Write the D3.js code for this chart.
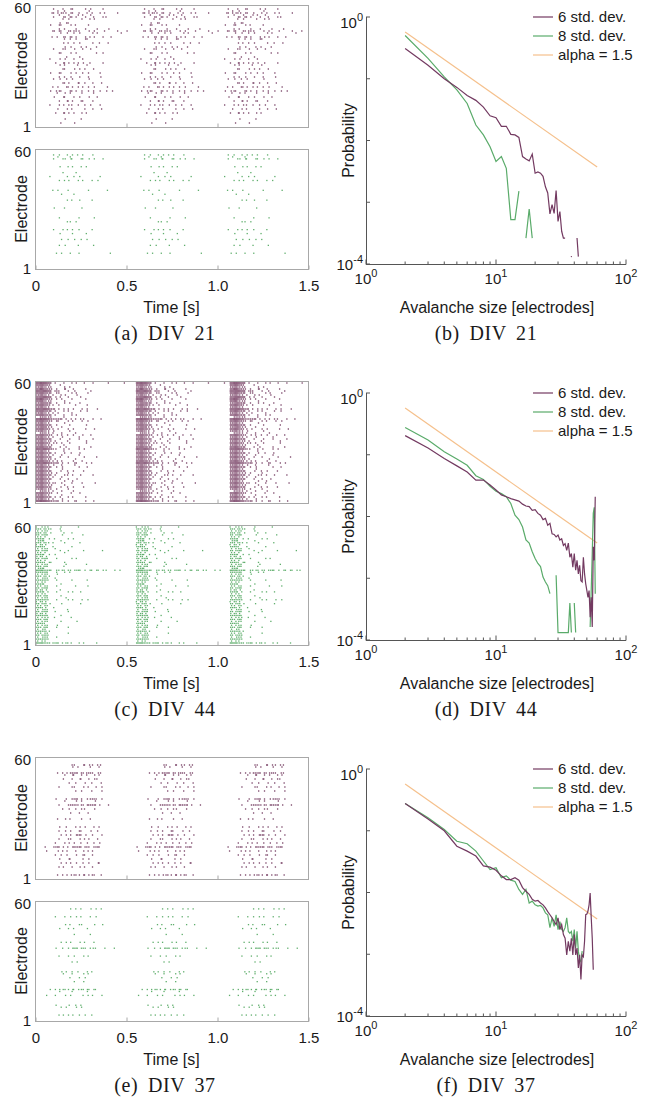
<!DOCTYPE html>
<html><head><meta charset="utf-8">
<script src="https://cdn.jsdelivr.net/npm/d3@7"></script>
<style>
body{margin:0;background:#fff}
svg{display:block}
text{font-family:"Liberation Sans",Arial,Helvetica,sans-serif;fill:#1a1a1a}
.cap{font-family:"Liberation Serif","Times New Roman",serif}
</style>
</head><body>
<svg id="c" width="658" height="1100"></svg>
<script>
// ---------------- DATA ----------------
const timeTicks = [0, 0.5, 1.0, 1.5];
const timeTickLabels = ["0", "0.5", "1.0", "1.5"];
const electrodeLabels = ["60", "1"];
const xDecades = [1, 10, 100];
const xDecadeExp = ["0", "1", "2"];
const yDecades = [1e-4, 1e-3, 1e-2, 1e-1, 1];
const legendLabels = ["6 std. dev.", "8 std. dev.", "alpha = 1.5"];
const captionsLeft = ["(a) DIV 21", "(c) DIV 44", "(e) DIV 37"];
const captionsRight = ["(b) DIV 21", "(d) DIV 44", "(f) DIV 37"];

// raster: per electrode, 20 ms bins from each burst onset.
// digit n = n spikes spread over the bin; a/b/c/d = one spike early..late in the bin
const binWidth = 0.02;
const subPos = { a: 0.1, b: 0.3, c: 0.7, d: 0.9 };
const burstOnsetsA = [0.06, 0.56, 1.02];
const burstOnsetsC = [0.005, 0.555, 1.07];
const burstOnsetsE = [0.05, 0.555, 1.055];

const rasterA6 = [
 [59,"00a0c0db00d0b00c0"],[58,"000b0a00000d"],[57,"0cab21db0a0bc0d0a00c"],[56,"000c00b0d0a0b"],
 [55,"00a0dbcab0d00a0c1"],[54,"0000c0b00d00ab00"],[52,"000d0ca"],[51,"0b0ca0d0a00c"],
 [49,"000c0a00b0d000a00b"],[48,"0dbca02cba0d0b00a00c00b"],[47,"0000ad0c0b00d0a00000c"],[45,"0c0adbcab0d0ab0c0d"],
 [44,"00000ac0b0db"],[42,"0000d0ac0b00d0c00a"],[40,"00000bd00c0a0d0"],[39,"00a0cb0d00a0b00"],
 [37,"000ca0d0b0000d0c00"],[35,"00000c000b"],[34,"0a0d0b0c00a00"],[32,"00c0dabcd0b0a00c"],
 [31,"000d0a00c00b"],[29,"0000ca0d0bc00a"],[27,"0b0ca0d0b0ac00d"],[25,"000c0ad00b0c000a"],
 [24,"00ad0c0b000d"],[22,"0000cab0dac0d00b"],[20,"0d0b0cabd0ac0b00d0"],[18,"0bdca0cabd0c0ad0c0b"],
 [17,"000a0bc00d000a"],[15,"00b0da0c0b0d00a"],[13,"000c0dab0ca0d00"],[11,"0a0cd0bad0c0b0d"],
 [9,"000b0d0a00c0d00b"],[7,"00c0dabc0d0a00"],[4,"00000b000c"],[2,"0000a00d"]
];
const rasterA8 = [
 [58,"00ac0d0bc0a0d"],[57,"000b00c"],[56,"00a0cbda0cad0b0c00"],[52,"000d00ab0c0a"],
 [49,"0000c000b"],[47,"0a000d0c0b0000d"],[45,"000c0ab0d0a0c0b"],[40,"0d0b00a0000c0000d0"],
 [38,"0000b00c"],[35,"00000d0a0b00c"],[31,"00b00a000d00"],[26,"000c00000a000b00"],
 [24,"00000dc0b"],[20,"00a0cd0b0a00c"],[18,"000d000b000a"],[15,"0000b0ad0c0b"],
 [12,"000c0b00d0000a"],[8,"00d0b0c00a0000000c"]
];
const rasterC6 = [
 [60,"4543ab0c0d0a0b0c000d0000b"],[59,"343200c"],[58,"2321a00d0b"],[57,"3532bc0da0b00c"],
 [56,"4443a2b0d0c0000a"],[55,"3432acb00d0a00b"],[54,"2321c0d0a00b0"],[53,"3443a1c0d000b"],
 [52,"4532bc0a0d000c"],[51,"3421a00d0"],[50,"2332ac0d0b00a"],[49,"3432c0b000d000a0"],
 [48,"2321"],[47,"44432abcd0b0c0a0d"],[46,"3432ab0cd000b0a"],[45,"2321c0a00d"],
 [44,"3432ab0c0d0a"],[43,"0221a00c"],[42,"4543222abcd0ba0c0d"],[41,"3432bca0d0a0c0b"],
 [40,"2321000d"],[39,"3432ac000b000d"],[38,"2331b00a"],[37,"3432c0a0d0b00c00a"],
 [36,"2321d0000b"],[35,"0221c00a00d"],[34,"3432bd0ac0b0d00a"],[33,"2321c00b000d"],
 [32,"3432a0c00b0d000c"],[31,"2321ab00c0000d"],[30,"3432dc0a0b000d"],[29,"2321b00c"],
 [28,"3432a0c0b00d000a"],[27,"4443210c0a0d0b"],[26,"2321000c"],[25,"3432ab0d0c00a"],
 [24,"2321c00a000d"],[23,"3432a0c0d0000b00c"],[22,"2321ab0000d"],[21,"3432cd0a00b0c"],
 [20,"444322abd0ca0d0b"],[19,"2321d00a00c"],[18,"3432ac0b000d00a"],[17,"2321000b"],
 [16,"3432a0d0c0b00a"],[15,"2321bc00d"],[14,"3432ab0dc0a0b00c"],[13,"2321c00a"],
 [12,"3432a0c0d00b"],[11,"2321000d00a"],[10,"3432cb0a0d00c000b"],[9,"2321b00d"],
 [8,"3432a0d0c0b00a"],[7,"2321ac00d"],[6,"0221c00a00b"],[5,"3432bd000c00a"],
 [4,"2321000a"],[3,"3432abc0d0a00c"],[2,"2321c00b"],[1,"454322abd0ca0c0d"]
];
const rasterC8 = [
 [60,"ac1b00d0000c"],[59,"2b21a0c"],[58,"1c1a00d"],[57,"2b20a00c0d"],
 [56,"2c2a000b0000d"],[55,"1b1"],[54,"22ac0a00d0b"],[53,"c2a000d"],
 [52,"2b21c00d0000a"],[51,"a2c"],[50,"22b0c0000d"],[49,"1c1a0b"],
 [48,"2c2a00c0d0000a0000b"],[47,"1b10000d"],[46,"22ac0b"],[45,"b2d"],
 [44,"2c2a0c000d0a"],[43,"1b1"],[42,"22bca00d00"],[41,"1c1a0000b0000d"],
 [40,"2b2a000c0"],[39,"c2a"],[38,"3322acb2d1c2a1dbca1b0c0a"],[37,"222a0c0d0b"],
 [36,"1c1a0d"],[35,"2b2c"],[34,"1d1a0b"],[33,"222b0c000d0000a"],
 [32,"1c1"],[31,"22a000d"],[30,"1b1a0c0000d000b"],[29,"2c2a"],
 [28,"b2d000c"],[27,"22ab0c00d0a0b0"],[26,"1c1"],[25,"2b2a00d"],
 [24,"1c1a0000b"],[23,"222b0c00d0a0c0b"],[22,"a2c"],[21,"2c2d000a0000b"],
 [20,"1b1a"],[19,"22c0d0"],[18,"1d1a0000c"],[17,"2c2a0b00d"],
 [16,"b2c"],[15,"222a00d"],[14,"1c1b0a000c"],[13,"2b2a"],
 [12,"1c1a00d0000b"],[11,"22b"],[10,"1c1a0d"],[9,"2b2a0c00d00"],
 [8,"1d1"],[7,"222c"],[6,"1b1a0000d"],[5,"2c2b"],
 [4,"1d1a0c"],[3,"222b"],[2,"1c1"],[1,"3322c2ab2c0d0a00c"]
];
const rasterE6 = [
 [57,"0000000cb0da1bc1"],[56,"0000000d0b00c00a"],[53,"000c0ab22a2c2bd1"],[52,"00000c0da0bc0d0a"],
 [50,"00000b0c0da0bd1"],[48,"000000d0c00b0a0c"],[46,"0000a00cb0d0a0bd"],[44,"00000000c0b00a0d"],
 [40,"000b00ac2abdc2bd"],[39,"00000c00d0b000a0"],[37,"0000a0c22b2d22ab0c"],[35,"00000ad0c0ba0d00"],
 [33,"0000000b0c00a"],[30,"000c0d0a00b0c"],[26,"0000b0a0cd0b0c0a"],[24,"0000ad0b0ca0d0c0"],
 [22,"0000c0abd2a10b0d"],[20,"0000a0cb0d0ab0c0"],[18,"000a0cd0b0ad0c0b"],[16,"b0c2ab1d22a2bc2a"],
 [14,"c00d0ab0c0d0ab00"],[12,"000ac0b0d0ca0b00"],[10,"0000b0da00c0b"],[8,"0000c0abd0c0b0da"],
 [6,"0000ab0c0d0a0b00"],[2,"000c0ab12cdab20c"]
];
const rasterE8 = [
 [57,"0000000bc0a0d0bc"],[53,"000a0c0bd0a0c0b0"],[49,"00000d0a0cb00d00a"],[47,"0000b0c0a00d"],
 [44,"00000000b000c"],[40,"0000c0ab0d0a0c00"],[37,"000b0acd2a2bc1a0c00b"],[33,"0000a0c0b0d0a"],
 [30,"0000000c0a"],[25,"0000d0ac0b0d0a00"],[24,"00000b0c00d0a"],[22,"0000000a0c0b0"],
 [20,"00000000b0d0"],[16,"0c0ab2cda12dbca0"],[15,"0000b00c000d0"],[13,"c00a0d0b00c0ab0d"],
 [8,"000b00d0c0a00"],[7,"0000c0a0d0b"],[3,"0000abcd0c0b0a00"]
];

// avalanche size distributions: log10(probability) for sizes 2,3,4,...  (null = no avalanches)
const sizeStart = 2;
const logP_b6 = [-0.51,-0.78,-1.00,-1.14,-1.27,-1.35,-1.46,-1.60,-1.63,-1.77,-1.77,-1.90,-1.91,-1.95,-2.26,-2.30,-2.33,-2.22,-2.53,-2.51,-2.53,-2.58,-2.75,-2.85,-3.19,-3.04,-3.18,-2.81,-3.31,-3.15,-3.47,-3.58,-3.58,null,null,null,-3.88,null,null,null,-3.58,-3.88];
const logP_b8 = [-0.30,-0.67,-0.97,-1.18,-1.40,-1.75,-1.91,-2.10,-2.34,-2.26,-2.45,-3.28,-3.28,-2.82,null,-3.58,-3.11,-3.58];
const logP_d6 = [-0.69,-0.89,-1.06,-1.18,-1.28,-1.41,-1.41,-1.49,-1.57,-1.65,-1.68,-1.71,-1.73,-1.75,-1.80,-1.83,-1.84,-1.90,-1.89,-1.95,-1.98,-2.05,-2.03,-2.14,-2.11,-2.28,-2.29,-2.33,-2.30,-2.38,-2.36,-2.47,-2.44,-2.55,-2.43,-2.66,-2.60,-2.82,-2.60,-2.87,-2.71,-2.93,-2.79,-3.04,-3.06,-2.66,-2.93,-3.09,-3.20,-3.31,-3.20,-3.63,-3.31,-3.79,-2.49,-2.71,-1.68];
const logP_d8 = [-0.56,-0.76,-0.95,-1.07,-1.17,-1.34,-1.40,-1.51,-1.59,-1.63,-1.68,-1.79,-1.98,-2.05,-2.17,-2.38,-2.43,-2.57,-2.68,-2.76,-2.81,-2.98,-3.06,-3.12,-3.25,null,null,-2.95,-3.88,-3.88,-3.88,-3.88,-3.88,-3.88,-3.88,-3.40,-3.88,null,-3.40,-3.88,null,null,null,null,null,null,null,null,null,null,null,-3.79,-3.20,-2.60,-1.95,-1.85,-3.25];
const logP_f6 = [-0.56,-0.81,-1.00,-1.25,-1.33,-1.41,-1.57,-1.59,-1.64,-1.73,-1.79,-1.79,-1.76,-1.80,-1.92,-1.98,-2.03,-2.11,-2.14,-2.13,-2.17,-2.20,-2.25,-2.31,-2.36,-2.41,-2.47,-2.52,-2.41,-2.60,-2.52,-2.68,-2.74,-3.01,-2.79,-2.95,-2.74,-3.01,-2.68,-3.01,-2.90,-3.22,-3.01,-3.41,-3.01,-3.04,-2.79,-2.36,-2.35,-2.30,-2.20,-2.01,-2.40,-2.74,-3.25];
const logP_f8 = [-0.56,-0.79,-0.98,-1.17,-1.21,-1.33,-1.49,-1.63,-1.60,-1.76,-1.73,-1.80,-1.82,-1.95,-2.03,-1.95,-2.17,-2.14,-2.20,-2.22,-2.21,-2.25,-2.33,-2.36,-2.57,-2.41,-2.55,-2.36,-2.60,-2.47,-2.60,-2.63,-2.57,-2.41,-2.63,-2.66,-2.63,-2.79,-2.60,-2.90,-2.63,-2.95,-3.09,-3.12,-2.95];
const alphaSizes = [2, 60];
const alphaLogP = [-0.244, -2.43];

// ---------------- DRAW ----------------
const C6 = "#733a61", C8 = "#5aab6a", CA = "#f5c08c";
const DOT6 = "#72395f", DOT8 = "#5fae6c";
const svg = d3.select("#c");
const rowY = [0, 376, 752];
const xT = d3.scaleLinear().domain([0, 1.5]).range([35, 308]);

function raster(Y, rows, onsets, color, top, bottom, withLabels) {
  const y = d3.scaleLinear().domain([1, 60]).range([Y + bottom - 2, Y + top + 2]);
  const g = svg.append("g");
  const spikes = [];
  rows.forEach(([e, p]) => onsets.forEach(t0 => {
    for (let i = 0; i < p.length; i++) {
      const c = p[i];
      const offs = [];
      if (subPos[c] !== undefined) offs.push(subPos[c]);
      else { const n = +c; for (let j = 0; j < n; j++) offs.push((j + 0.5) / n); }
      offs.forEach(o => {
        const t = t0 + (i + o) * binWidth;
        if (t <= 1.5) spikes.push([t, e]);
      });
    }
  }));
  g.selectAll("rect.sp").data(spikes).join("rect").attr("class", "sp")
    .attr("x", d => xT(d[0]) - 0.65).attr("y", d => y(d[1]) - 0.65)
    .attr("width", 1.3).attr("height", 1.3).attr("fill", color);
  g.append("rect").attr("x", 35.5).attr("y", Y + top + 0.5)
    .attr("width", 273).attr("height", bottom - top)
    .attr("fill", "none").attr("stroke", "#a8a8a8").attr("stroke-width", 1);
  const ax = d3.axisBottom(xT).tickValues(withLabels ? timeTicks : [0.5, 1.0])
    .tickSize(-4).tickFormat((d) => withLabels ? timeTickLabels[timeTicks.indexOf(d)] : "");
  const ag = g.append("g").attr("transform", `translate(0.5,${Y + bottom + 0.5})`).call(ax);
  ag.select(".domain").remove();
  ag.selectAll("line").attr("stroke", "#a8a8a8");
  ag.selectAll("text").attr("y", 21).attr("dy", null).attr("font-size", 15)
    .attr("font-family", "Liberation Sans, Arial, sans-serif").attr("fill", "#1a1a1a");
  g.append("text").attr("x", 31).attr("y", Y + top + 8).attr("text-anchor", "end")
    .attr("font-size", 15).text(electrodeLabels[0]);
  g.append("text").attr("x", 31).attr("y", Y + bottom + 5).attr("text-anchor", "end")
    .attr("font-size", 15).text(electrodeLabels[1]);
  g.append("text").attr("transform", `translate(26.5,${Y + (top + bottom) / 2}) rotate(-90)`)
    .attr("text-anchor", "middle").attr("font-size", 16).text("Electrode");
}

function logPlot(Y, l6, l8) {
  const x = d3.scaleLog().domain([1, 100]).range([366, 626]);
  const y = d3.scaleLog().domain([1e-4, 1]).range([Y + 264, Y + 17]);
  const g = svg.append("g");
  const axc = "#555";
  const y0 = y(1e-4) + 0.5;
  x.ticks().forEach(v => {
    const major = Math.abs(Math.log10(v) - Math.round(Math.log10(v))) < 1e-9;
    g.append("line").attr("x1", x(v)).attr("x2", x(v)).attr("y1", y0).attr("y2", y0 - (major ? 5 : 3))
      .attr("stroke", axc);
  });
  yDecades.forEach(v => g.append("line").attr("x1", 366).attr("x2", 370)
    .attr("y1", y(v)).attr("y2", y(v)).attr("stroke", axc));
  g.append("line").attr("x1", 366).attr("x2", 626).attr("y1", y0).attr("y2", y0).attr("stroke", axc);
  g.append("line").attr("x1", 366.5).attr("x2", 366.5).attr("y1", y(1)).attr("y2", y0).attr("stroke", axc);

  xDecades.forEach((v, i) => {
    const t = g.append("text").attr("x", x(v)).attr("y", Y + 284).attr("text-anchor", "middle").attr("font-size", 15);
    t.append("tspan").text("10");
    t.append("tspan").attr("dy", -7).attr("font-size", 11).text(xDecadeExp[i]);
  });
  [[1, "0", 11], [1e-4, "-4", 6]].forEach(([v, e, off]) => {
    const t = g.append("text").attr("x", 363).attr("y", y(v) + off).attr("text-anchor", "end").attr("font-size", 15);
    t.append("tspan").text("10");
    t.append("tspan").attr("dy", -7).attr("font-size", 11).text(e);
  });
  g.append("text").attr("x", 497).attr("y", Y + 313).attr("text-anchor", "middle").attr("font-size", 16)
    .text("Avalanche size [electrodes]");
  g.append("text").attr("transform", `translate(354,${(y(1) + y(1e-4)) / 2}) rotate(-90)`)
    .attr("text-anchor", "middle").attr("font-size", 16).text("Probability");

  const toPts = arr => arr.map((v, i) => [sizeStart + i, v]);
  const line = d3.line().defined(d => d[1] != null).x(d => x(d[0])).y(d => y(Math.pow(10, d[1])));
  const alphaPts = alphaSizes.map((s, i) => [s, alphaLogP[i]]);
  [[alphaPts, CA], [toPts(l8), C8], [toPts(l6), C6]].forEach(([pts, col]) => {
    g.append("path").attr("d", line(pts)).attr("fill", "none").attr("stroke", col).attr("stroke-width", 1.2);
    pts.forEach((p, i) => {
      if (p[1] != null && (i === 0 || pts[i - 1][1] == null) && (i === pts.length - 1 || pts[i + 1][1] == null)) {
        g.append("circle").attr("cx", x(p[0])).attr("cy", y(Math.pow(10, p[1]))).attr("r", 0.7).attr("fill", col);
      }
    });
  });
  [C6, C8, CA].forEach((col, i) => {
    const ly = y(1) + i * 19;
    g.append("line").attr("x1", 533).attr("x2", 553).attr("y1", ly).attr("y2", ly)
      .attr("stroke", col).attr("stroke-width", 1.2);
    g.append("text").attr("x", 558).attr("y", ly + 5).attr("font-size", 15).text(legendLabels[i]);
  });
}

const panels = [
  [rasterA6, rasterA8, burstOnsetsA, logP_b6, logP_b8],
  [rasterC6, rasterC8, burstOnsetsC, logP_d6, logP_d8],
  [rasterE6, rasterE8, burstOnsetsE, logP_f6, logP_f8]
];
panels.forEach(([r6, r8, on, l6, l8], k) => {
  const Y = rowY[k];
  raster(Y, r6, on, DOT6, 5, 127, false);
  raster(Y, r8, on, DOT8, 149, 269, true);
  svg.append("text").attr("x", 171.5).attr("y", Y + 313).attr("text-anchor", "middle")
    .attr("font-size", 16).text("Time [s]");
  logPlot(Y, l6, l8);
  svg.append("text").attr("class", "cap").attr("x", 165).attr("y", Y + 340)
    .attr("text-anchor", "middle").attr("font-size", 20).attr("letter-spacing", 0.6)
    .attr("word-spacing", 4).text(captionsLeft[k]);
  svg.append("text").attr("class", "cap").attr("x", 486).attr("y", Y + 340)
    .attr("text-anchor", "middle").attr("font-size", 20).attr("letter-spacing", 0.6)
    .attr("word-spacing", 4).text(captionsRight[k]);
});
</script>
</body></html>
